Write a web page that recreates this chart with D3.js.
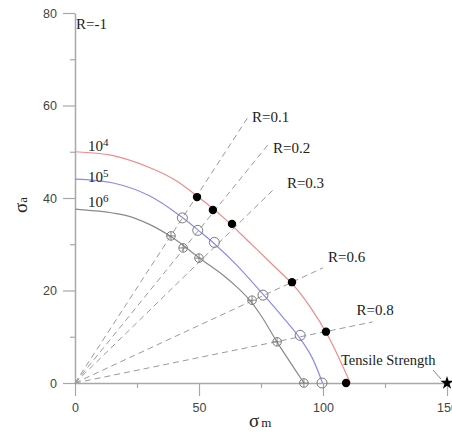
<!DOCTYPE html>
<html>
<head>
<meta charset="utf-8">
<script src="https://cdn.jsdelivr.net/npm/d3@7"></script>
<style>
  html, body { margin: 0; padding: 0; background: #fff; }
  svg { display: block; }
</style>
</head>
<body>
<svg id="chart" width="452" height="436"></svg>
<script>
// ---------- data ----------
const lifeLevels = ["4", "5", "6"]; // 10^4, 10^5, 10^6 cycles
const curveColors = ["#f08a8a", "#8a8af0", "#8a8a8a"];

// constant-life curves (σm, σa)
const curve4M = [0, 15, 30, 40, 50, 60, 70, 80, 88, 95, 102, 111];
const curve4A = [50, 49.2, 46.6, 44, 40.1, 35.7, 30.6, 25.4, 21.2, 16.3, 10.2, 0];
const curve5M = [0, 15, 30, 43.3, 50, 56.2, 65, 75.8, 84, 90.8, 95.5, 99.8];
const curve5A = [44.1, 43.3, 40.5, 35.8, 32.9, 30.1, 25.6, 19.2, 14.1, 9.6, 5.6, 0];
const curve6M = [0, 20, 30, 40, 50, 60, 65, 70, 75, 81.3, 87, 92.3];
const curve6A = [37.6, 36.3, 34.3, 31.2, 27.1, 23.2, 20.9, 18.2, 14.6, 9.0, 4.3, 0];

// experimental points
const pts4M = [49.2, 55.6, 63.3, 87.5, 101.2, 109.3];
const pts4A = [40.2, 37.4, 34.4, 21.8, 11.1, 0];
const pts5M = [43.3, 49.5, 56.2, 75.8, 90.8, 99.6];
const pts5A = [35.7, 33, 30.4, 19, 10.3, 0];
const pts6M = [38.7, 43.6, 50, 71.4, 81.5, 92.3];
const pts6A = [31.8, 29.2, 27, 17.9, 8.9, 0];

// stress-ratio rays
const rLabels = ["R=0.1", "R=0.2", "R=0.3", "R=0.6", "R=0.8"];
const rayEndM = [69.8, 77.8, 79.8, 100, 120];
const rayEndA = [57.5, 51.5, 41.7, 24.9, 13.2];

const tensileM = 150, tensileA = 0;

const yTicks = [0, 20, 40, 60, 80];
const yMinor = [10, 30, 50, 70];
const xTicks = [0, 50, 100, 150];
const xMinor = [25, 75, 125];

// ---------- drawing ----------
const svg = d3.select("#chart");
const x = d3.scaleLinear().domain([0, 150]).range([75, 447]);
const y = d3.scaleLinear().domain([0, 80]).range([383, 13]);

const sans = "'Liberation Sans', Arial, sans-serif";
const serif = "'Liberation Serif', 'Times New Roman', serif";
const axisColor = "#a8a8a8";

function styleAxis(g) {
  g.selectAll(".domain").attr("stroke", axisColor).attr("stroke-width", 1.5);
  g.selectAll(".tick line").attr("stroke", axisColor).attr("stroke-width", 1.2);
  g.selectAll(".tick text").attr("fill", "#444").style("font-family", sans).style("font-size", "12.5px");
}

// y axis
svg.append("g").attr("transform", "translate(75,0)")
  .call(d3.axisLeft(y).tickValues(yMinor).tickSize(5).tickFormat(""))
  .call(g => g.select(".domain").remove()).call(styleAxis);
svg.append("g").attr("transform", "translate(75,0)")
  .call(d3.axisLeft(y).tickValues(yTicks).tickSize(12).tickSizeOuter(0).tickPadding(6))
  .call(styleAxis);

// x axis
svg.append("g").attr("transform", "translate(0,383)")
  .call(d3.axisBottom(x).tickValues(xMinor).tickSize(5).tickFormat(""))
  .call(g => g.select(".domain").remove()).call(styleAxis);
svg.append("g").attr("transform", "translate(0,383)")
  .call(d3.axisBottom(x).tickValues(xTicks).tickSize(13).tickSizeOuter(0).tickPadding(7))
  .call(styleAxis);

// rays
const rayG = svg.append("g");
rLabels.forEach((lab, i) => {
  rayG.append("line")
    .attr("x1", x(0)).attr("y1", y(0))
    .attr("x2", x(rayEndM[i])).attr("y2", y(rayEndA[i]))
    .attr("stroke", "#9a9a9a").attr("stroke-width", 1)
    .attr("stroke-dasharray", "6,4");
});
const labOffsets = [[4, 0], [5, 3], [14, -7], [5, -11], [-16, -12]];
rLabels.forEach((lab, i) => {
  svg.append("text")
    .attr("x", x(rayEndM[i]) + labOffsets[i][0])
    .attr("y", y(rayEndA[i]) + labOffsets[i][1])
    .attr("dy", "0.35em")
    .style("font-family", serif).style("font-size", "15px").attr("fill", "#222")
    .text(lab);
});
svg.append("text").attr("x", 76).attr("y", 29)
  .style("font-family", serif).style("font-size", "15px").attr("fill", "#222")
  .text("R=-1");

// curves
const line = d3.line().x(d => x(d[0])).y(d => y(d[1])).curve(d3.curveCatmullRom.alpha(0.5));
const curves = [
  d3.zip(curve4M, curve4A),
  d3.zip(curve5M, curve5A),
  d3.zip(curve6M, curve6A)
];
curves.forEach((c, i) => {
  svg.append("path").datum(c).attr("d", line)
    .attr("fill", "none").attr("stroke", curveColors[i]).attr("stroke-width", 1.2);
});

// curve labels
const labBase = [150.5, 181.5, 207];
lifeLevels.forEach((e, i) => {
  const t = svg.append("text").attr("x", 88).attr("y", labBase[i])
    .style("font-family", serif).style("font-size", "15px").attr("fill", "#222");
  t.append("tspan").text("10");
  t.append("tspan").attr("dy", "-5").style("font-size", "11px").text(e);
});

// markers
const markerStroke = "#7a7a7a";
// 10^4: filled black dots
svg.append("g").selectAll("circle").data(d3.zip(pts4M, pts4A)).join("circle")
  .attr("cx", d => x(d[0])).attr("cy", d => y(d[1])).attr("r", 4.2).attr("fill", "#000");
// 10^5: open circles
svg.append("g").selectAll("circle").data(d3.zip(pts5M, pts5A)).join("circle")
  .attr("cx", d => x(d[0])).attr("cy", d => y(d[1])).attr("r", 5)
  .attr("fill", "none").attr("stroke", markerStroke).attr("stroke-width", 1);
// 10^6: crossed circles
const g6 = svg.append("g").selectAll("g").data(d3.zip(pts6M, pts6A)).join("g")
  .attr("transform", d => `translate(${x(d[0])},${y(d[1])})`);
g6.append("circle").attr("r", 4.3).attr("fill", "none").attr("stroke", markerStroke).attr("stroke-width", 1);
g6.append("path").attr("d", "M-4.3,0H4.3M0,-4.3V4.3").attr("stroke", markerStroke).attr("stroke-width", 0.9);

// tensile strength
svg.append("path")
  .attr("transform", `translate(${x(tensileM)},${y(tensileA)})`)
  .attr("d", d3.symbol().type(d3.symbolStar).size(55)())
  .attr("fill", "#000");
svg.append("line").attr("x1", 433).attr("y1", 370).attr("x2", 441).attr("y2", 379)
  .attr("stroke", "#666").attr("stroke-width", 0.8);
svg.append("text").attr("x", 341).attr("y", 365)
  .style("font-family", serif).style("font-size", "14.5px").attr("fill", "#222")
  .text("Tensile Strength");

// axis titles
const yt = svg.append("text")
  .attr("transform", "translate(27,213) rotate(-90)")
  .style("font-family", serif).attr("fill", "#222");
yt.append("tspan").style("font-size", "19px").text("σ");
yt.append("tspan").style("font-size", "13px").text("a");

const xt = svg.append("text").attr("x", 249).attr("y", 427)
  .style("font-family", serif).attr("fill", "#222");
xt.append("tspan").style("font-size", "19px").text("σ");
xt.append("tspan").attr("dx", "2").style("font-size", "13px").text("m");
</script>
</body>
</html>
